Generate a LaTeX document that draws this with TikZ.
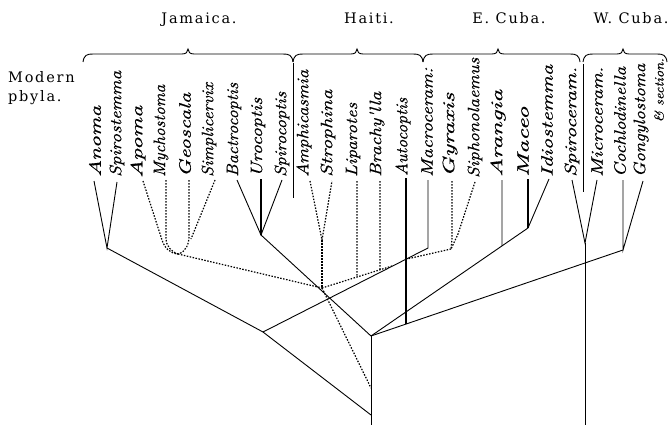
\documentclass[tikz,border=0pt]{standalone}
\usepackage{fontspec}
\usepackage{graphicx}
\newfontfamily\hdfont[LetterSpace=12]{DejaVu Serif}
\newfontfamily\lblfont[FakeBold=0.5]{lmroman10-italic.otf}
\newcommand{\lbl}[2]{\resizebox{#1pt}{\height}{#2}}
\newcommand{\mybrace}[3]{%
  \draw[brc] (#1,62) .. controls (#1+1,55) and (#1+4,54) .. (#1+10,54) -- (#2-6,54)
    .. controls (#2-2,54) and (#2,52) .. (#2,49)
    .. controls (#2,52) and (#2+2,54) .. (#2+6,54) -- (#3-10,54)
    .. controls (#3-4,54) and (#3-1,55) .. (#3,62);}
\begin{document}
\begin{tikzpicture}[x=1pt,y=-1pt,
  sl/.style={line width=0.9pt},
  thk/.style={line width=1.6pt},
  dots/.style={line width=1.2pt,dash pattern=on 1.5pt off 1.5pt},
  brc/.style={line width=0.9pt},
  lab/.style={rotate=90,anchor=west,inner sep=0pt,font=\fontsize{16.5}{16.5}\selectfont\lblfont},
  hd/.style={inner sep=0pt,anchor=base,font=\fontsize{14.5}{16}\selectfont\hdfont}]
\useasboundingbox (0,0) rectangle (671,425);

% headings
\node[hd] (hJam) at (199,24) {Jamaica.};
\node[hd] (hHai) at (369,24) {Haiti.};
\node[hd] (hEC) at (509,24) {E. Cuba.};
\node[hd] (hWC) at (631,24) {W. Cuba.};
\node[hd,anchor=base west] (hMod) at (8,83) {Modern};
\node[hd,anchor=base west] (hPhy) at (8,102) {pbyla.};

% braces
\mybrace{83}{188}{293}
\mybrace{293}{357}{423}
\mybrace{423}{498}{580}
\mybrace{583}{623}{667}

% separators
\coordinate (s1t) at (293,63); \coordinate (s1b) at (293,198);
\coordinate (s2t) at (583,64); \coordinate (s2b) at (583,192);
\draw[sl] (s1t) -- (s1b);
\draw[sl] (s2t) -- (s2b);

% labels
\node[lab] (tAnoma) at (95,177) {\lbl{71}{Anoma}};
\node[lab] (tSpirost) at (117,177) {\lbl{106}{Spirostemma}};
\node[lab] (tApoma) at (138,178) {\lbl{72}{Apoma}};
\node[lab] (tMycho) at (161,177) {\lbl{92}{Mychostoma}};
\node[lab] (tGeo) at (185,177) {\lbl{84}{Geoscala}};
\node[lab] (tSimp) at (209,177) {\lbl{94}{Simplicervix}};
\node[lab] (tBact) at (234,177) {\lbl{94}{Bactrocoptis}};
\node[lab] (tUro) at (258,177) {\lbl{79}{Urocoptis}};
\node[lab] (tSpcop) at (282,177) {\lbl{85}{Spirocoptis}};
\node[lab] (tAmph) at (304,177) {\lbl{107}{Amphicasmia}};
\node[lab] (tStroph) at (328,177) {\lbl{87}{Strophina}};
\node[lab] (tLip) at (353,177) {\lbl{74}{Liparotes}};
\node[lab] (tBrach) at (377,177) {\lbl{85}{Brachy'lla}};
\node[lab] (tAuto) at (403,176) {\lbl{78}{Autocoptis}};
\node[lab] (tMacro) at (427,177) {\lbl{109}{Macroceram:}};
\node[lab] (tGyr) at (450,177) {\lbl{84}{Gyraxis}};
\node[lab] (tSiph) at (475,178) {\lbl{120}{Siphonolaemus}};
\node[lab] (tAran) at (498,177) {\lbl{87}{Arangia}};
\node[lab] (tMaceo) at (523,177) {\lbl{70}{Maceo}};
\node[lab] (tIdio) at (547,177) {\lbl{112}{Idiostemma}};
\node[lab] (tSpcer) at (572,177) {\lbl{110}{Spiroceram.}};
\node[lab] (tMicro) at (597,177) {\lbl{110}{Microceram.}};
\node[lab] (tCoch) at (620,177) {\lbl{110}{Cochlodinella}};
\node[lab] (tGong) at (641,177) {\lbl{113}{Gongylostoma}};
\node[lab,anchor=east,font=\fontsize{13}{13}\selectfont\lblfont] (tSect) at (659,58) {\lbl{64}{\& section.}};

% leaf line tops
\coordinate (pAnoma) at (94,181);
\coordinate (pSpirost) at (117,182);
\coordinate (pApoma) at (143,181);
\coordinate (pMycho) at (166,180);
\coordinate (pGeo) at (189,180);
\coordinate (pSimp) at (215,180);
\coordinate (pBact) at (237,180);
\coordinate (pUro) at (261,179);
\coordinate (pSpcop) at (282,180);
\coordinate (pAmph) at (310,181);
\coordinate (pStroph) at (332,181);
\coordinate (pLip) at (357,181);
\coordinate (pBrach) at (380,181);
\coordinate (pAuto) at (406,178);
\coordinate (pMacro) at (428,180);
\coordinate (pGyr) at (452,181);
\coordinate (pSiph) at (475,182);
\coordinate (pAran) at (502,180);
\coordinate (pMaceo) at (528,179);
\coordinate (pIdio) at (549,179);
\coordinate (pSpcer) at (572,180);
\coordinate (pMicro) at (597,180);
\coordinate (pCoch) at (623,180);
\coordinate (pGong) at (643,181);

% junctions
\coordinate (jA) at (107,248);
\coordinate (jJ) at (178,254);
\coordinate (jBac) at (261,235);
\coordinate (jH) at (322,240);
\coordinate (jH2) at (322,288);
\coordinate (jB) at (263,332);
\coordinate (jMac) at (428,248);
\coordinate (jG) at (451,249);
\coordinate (jMc) at (528,228);
\coordinate (jE) at (371,336);
\coordinate (jC) at (371,415);
\coordinate (jBot) at (371,425);
\coordinate (jSp) at (585,243);
\coordinate (jSpBot) at (585,425);
\coordinate (jCo) at (623,250);
\coordinate (jMerge) at (392,266);
\coordinate (jCd) at (371,388);
\coordinate (dLip) at (357,400);
\coordinate (dBrach) at (380,400);
\coordinate (dAuto) at (406,400);
\coordinate (dAran) at (502,400);
\coordinate (jLip) at (intersection of pLip--dLip and jH2--jMerge);
\coordinate (jBrach) at (intersection of pBrach--dBrach and jH2--jMerge);
\coordinate (jAuto) at (intersection of pAuto--dAuto and jE--jCo);
\coordinate (jAM) at (intersection of pAuto--dAuto and jB--jMac);
\coordinate (jAran) at (intersection of pAran--dAran and jE--jMc);
\coordinate (aJ1) at (162,240);
\coordinate (aJ2) at (166,238);
\coordinate (aJ3) at (189,236);
\coordinate (aJ4) at (191,239);
\coordinate (gy1) at (452,238);
\coordinate (gy2) at (458,234);

% solid branches
\draw[sl] (pAnoma) -- (jA) -- (pSpirost);
\draw[sl] (jA) -- (jB);
\draw[sl] (pBact) -- (jBac) -- (pSpcop);
\draw[thk] (pUro) -- (jBac);
\draw[sl] (jBac) -- (jE);
\draw[sl] (jB) -- (jMac) -- (pMacro);
\draw[sl] (jB) -- (jC);
\draw[sl] (jE) -- (jBot);
\draw[thk] (pAuto) -- (jAuto);
\draw[sl] (jE) -- (jMc) -- (pIdio);
\draw[thk] (pMaceo) -- (jMc);
\draw[sl] (pAran) -- (jAran);
\draw[sl] (jE) -- (jCo);
\draw[sl] (pCoch) -- (jCo) -- (pGong);
\draw[sl] (pSpcer) -- (jSp) -- (pMicro);
\draw[sl] (jSp) -- (jSpBot);

% dotted branches
\draw[dots] (pApoma) -- (aJ1) to[out=-72,in=175] (jJ);
\draw[dots] (pMycho) -- (aJ2) to[out=-90,in=160] (jJ);
\draw[dots] (pGeo) -- (aJ3) to[out=-90,in=15] (jJ);
\draw[dots] (pSimp) -- (aJ4);
\draw[dots] (jJ) -- (jH2);
\draw[dots] (pAmph) -- (jH) -- (pStroph);
\draw[dots] (jH) -- (jH2);
\draw[dots] (jH2) -- (jMerge);
\draw[dots] (pLip) -- (jLip);
\draw[dots] (pBrach) -- (jBrach);
\draw[dots] (jH2) -- (jCd);
\draw[dots] (pGyr) -- (gy1) -- (jG);
\draw[dots] (pSiph) -- (gy2) -- (jG);
\draw[dots] (jG) -- (jAM);
\end{tikzpicture}
\end{document}
